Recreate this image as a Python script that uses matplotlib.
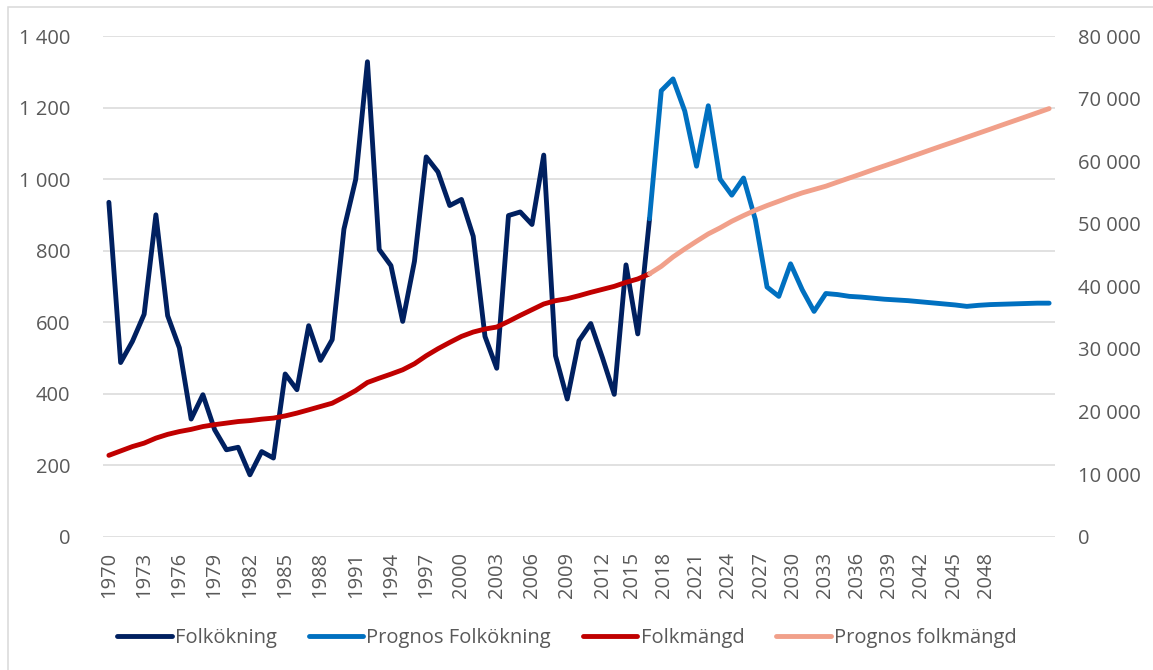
import matplotlib
matplotlib.use("Agg")
import matplotlib.pyplot as plt
from matplotlib.ticker import FuncFormatter
from matplotlib.patches import Rectangle

plt.rcParams['font.family'] = ['Open Sans', 'DejaVu Sans']

# ---------------- data ----------------
years_hist = list(range(1970, 2017))
years_prog = list(range(2016, 2051))

folkokning = [935, 487, 546, 622, 900, 618, 528, 329, 397, 299,
              243, 250, 173, 238, 220, 455, 411, 590, 493, 551,
              860, 999, 1328, 803, 758, 602, 770, 1062, 1020, 926,
              943, 840, 560, 471, 898, 908, 873, 1067, 506, 385,
              548, 596, 500, 398, 760, 567, 889]

prognos_folkokning = [889, 1247, 1280, 1190, 1036, 1205, 1000, 955, 1003, 887,
                      698, 672, 763, 690, 630, 680, 677, 672, 670, 667,
                      664, 662, 660, 657, 654, 651, 648, 644, 647, 649,
                      650, 651, 652, 653, 653]

folkmangd = [13000, 13700, 14400, 14950, 15750, 16350, 16800, 17150, 17600, 17900,
             18150, 18400, 18550, 18780, 18950, 19300, 19750, 20270, 20800, 21330,
             22300, 23350, 24640, 25330, 25980, 26670, 27630, 28910, 30030, 31040,
             32000, 32700, 33180, 33500, 34400, 35360, 36270, 37180, 37710, 38030,
             38510, 39040, 39520, 40000, 40640, 41180, 42000]

prognos_folkmangd = [42000, 43200, 44700, 45980, 47200, 48380, 49340, 50400, 51310, 52160,
                     52910, 53600, 54300, 54940, 55470, 56000, 56660, 57310, 57950, 58620,
                     59260, 59900, 60560, 61210, 61870, 62520, 63160, 63820, 64470, 65120,
                     65780, 66430, 67080, 67740, 68400]

tick_years = list(range(1970, 2049, 3))
series_names = ['Folkökning', 'Prognos Folkökning', 'Folkmängd', 'Prognos folkmängd']

# ---------------- style ----------------
C_NAVY = '#002060'
C_BLUE = '#0070C0'
C_RED = '#C00000'
C_SALMON = '#F1A08A'
C_GRID = '#D9D9D9'
C_TEXT = '#595959'
LW = 3.5
FS = 14.5

W, H = 1153, 670
fig = plt.figure(figsize=(W / 100, H / 100), dpi=100)
ax = fig.add_axes([103 / W, (H - 536.7) / H, 952 / W, 500.7 / H])
ax2 = ax.twinx()

line_kw = dict(lw=LW, solid_capstyle='round', solid_joinstyle='round')
h1, = ax.plot(years_hist, folkokning, color=C_NAVY, label=series_names[0], **line_kw)
h2, = ax.plot(years_prog, prognos_folkokning, color=C_BLUE, label=series_names[1], **line_kw)
h3, = ax2.plot(years_hist, folkmangd, color=C_RED, label=series_names[2], **line_kw)
h4, = ax2.plot(years_prog, prognos_folkmangd, color=C_SALMON, label=series_names[3], **line_kw)

ax.set_xlim(1969.5, 2050.5)
ax.set_ylim(0, 1400)
ax.set_yticks(range(0, 1401, 200))
ax2.set_ylim(0, 80000)
ax2.set_yticks(range(0, 80001, 10000))

# x labels laid out as in the reference (spacing tightens after 2012)
def label_pos(y):
    return y if y <= 2012 else 2011.75 + (y - 2012) * 0.913

ax.set_xticks([label_pos(y) for y in tick_years])
ax.set_xticklabels([str(y) for y in tick_years], rotation=90)

fmt = FuncFormatter(lambda v, p: f"{int(v):,}".replace(',', ' '))
ax.yaxis.set_major_formatter(fmt)
ax2.yaxis.set_major_formatter(fmt)

ax.grid(axis='y', color=C_GRID, lw=1.1)
ax.grid(axis='x', visible=False)
ax.set_axisbelow(True)
for a in (ax, ax2):
    for s in a.spines.values():
        s.set_visible(False)

ax.tick_params(axis='both', length=0, colors=C_TEXT, labelsize=FS)
ax.tick_params(axis='y', pad=23.5)
ax.tick_params(axis='x', pad=11.0)
ax2.tick_params(axis='y', length=0, colors=C_TEXT, labelsize=FS, pad=16.5)

leg = fig.legend([h1, h2, h3, h4], series_names, loc='center',
                 bbox_to_anchor=(567 / W, (H - 638) / H), ncol=4, frameon=False,
                 handlelength=2.7, handletextpad=0.15, columnspacing=1.6, fontsize=FS)
for t in leg.get_texts():
    t.set_color(C_TEXT)

# chart-area border (top and left visible in the crop)
fig.add_artist(Rectangle((7.5 / W, -0.1), 1.2, (H - 6.7) / H + 0.1,
                         transform=fig.transFigure, fill=False,
                         edgecolor=C_GRID, lw=1.1))

fig.savefig('out.png', dpi=100)
